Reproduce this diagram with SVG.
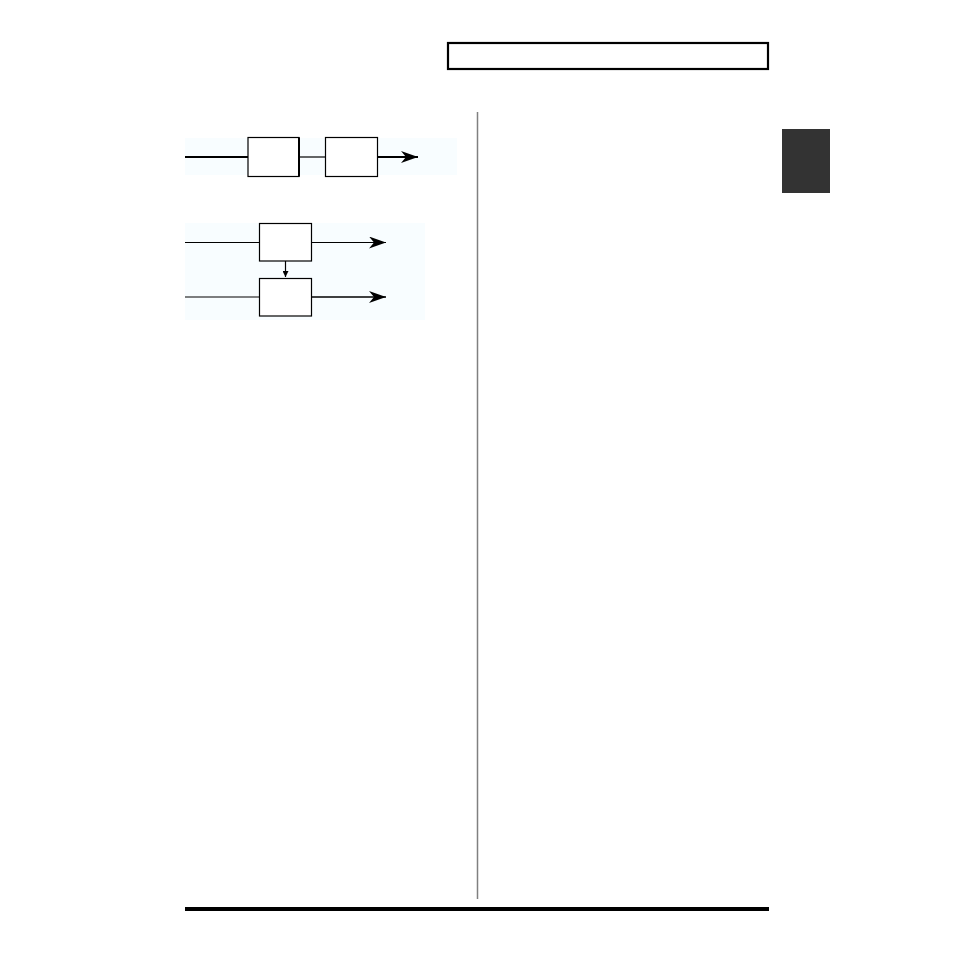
<svg xmlns="http://www.w3.org/2000/svg" width="954" height="954" viewBox="0 0 954 954">
<style>
.box{fill:#ffffff;stroke:#000;stroke-width:1.2}
.ln{stroke:#000;fill:none}
.bg{fill:#f8fdff}
</style>
<defs>
<marker id="ah" markerWidth="18" markerHeight="12" refX="17" refY="6" orient="auto" markerUnits="userSpaceOnUse">
<path d="M0,0 L17,6 L0,12 L5,6 Z" fill="#000"/>
</marker>
<marker id="sm" markerWidth="7" markerHeight="6" refX="6" refY="3" orient="auto" markerUnits="userSpaceOnUse">
<path d="M0,0 L6,3 L0,6 Z" fill="#000"/>
</marker>
</defs>
<rect width="954" height="954" fill="#fff"/>
<g id="header"><rect x="448" y="43" width="320" height="26" fill="none" stroke="#000" stroke-width="2.2"/></g>
<g id="tab"><rect x="782" y="129" width="48" height="64" fill="#333"/></g>
<g id="divider"><line x1="477.5" y1="112" x2="477.5" y2="899" stroke="#808080" stroke-width="1.5"/></g>
<g id="footer"><rect x="185" y="907" width="584" height="4" fill="#000"/></g>
<g id="bg1"><rect class="bg" x="185" y="138" width="272" height="37"/></g>
<g id="bg2"><rect class="bg" x="185" y="223" width="240" height="97"/></g>
<g id="node-a1"><rect class="box" x="248" y="137.5" width="51" height="39"/><line x1="299" y1="137.5" x2="299" y2="176.5" stroke="#000" stroke-width="2"/></g>
<g id="node-a2"><rect class="box" x="325.5" y="137.5" width="52" height="39"/></g>
<g id="node-b1"><rect class="box" x="259.5" y="223.5" width="52" height="37.5"/></g>
<g id="node-b2"><rect class="box" x="259.5" y="278.5" width="52" height="37.5"/></g>
<g id="connectors">
<line class="ln" x1="185" y1="157" x2="248" y2="157" stroke-width="2.2"/>
<line class="ln" x1="299" y1="157" x2="325.5" y2="157" stroke-width="1.2"/>
<line class="ln" x1="377.5" y1="157" x2="418" y2="157" stroke-width="2.2" marker-end="url(#ah)"/>
<line class="ln" x1="185" y1="242.5" x2="259.5" y2="242.5" stroke-width="1.2"/>
<line class="ln" x1="311.5" y1="242.5" x2="386" y2="242.5" stroke-width="1.2" marker-end="url(#ah)"/>
<line class="ln" x1="285.5" y1="261" x2="285.5" y2="277" stroke-width="1.2" marker-end="url(#sm)"/>
<line class="ln" x1="185" y1="297" x2="259.5" y2="297" stroke-width="1.2"/>
<line class="ln" x1="311.5" y1="297" x2="386" y2="297" stroke-width="1.6" marker-end="url(#ah)"/>
</g>
</svg>
